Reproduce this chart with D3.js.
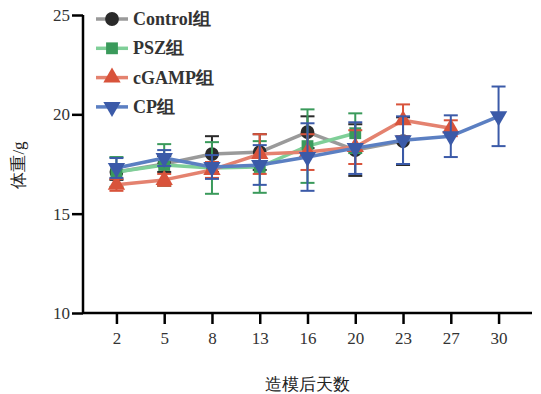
<!DOCTYPE html>
<html>
<head>
<meta charset="utf-8">
<script src="https://cdn.jsdelivr.net/npm/d3@7"></script>
<style>
  body { margin: 0; background: #fff; }
</style>
</head>
<body>
<div id="chart"></div>
<script>
// data
var days = ["2", "5", "8", "13", "16", "20", "23", "27", "30"];
var controlMean = [17.1, 17.5, 18.0, 18.1, 19.1, 18.2, 18.65];
var controlErr  = [0.4, 0.4, 0.9, 0.9, 0.8, 1.3, 1.2];
var pszMean = [17.1, 17.45, 17.3, 17.35, 18.4, 19.05];
var pszErr  = [0.75, 1.05, 1.3, 1.3, 1.85, 1.0];
var cgampMean = [16.45, 16.7, 17.2, 18.0, 18.1, 18.35, 19.7, 19.3];
var cgampErr  = [0.3, 0.3, 0.4, 1.0, 0.9, 0.85, 0.8, 0.4];
var cpMean = [17.3, 17.8, 17.35, 17.45, 17.85, 18.3, 18.7, 18.9, 19.9];
var cpErr  = [0.5, 0.4, 0.6, 1.0, 1.7, 1.3, 1.2, 1.05, 1.5];
var yTicks = [10, 15, 20, 25];

var groups = [
  {name: "Control组", mean: controlMean, err: controlErr, line: "#9a9a9a", mark: "#2a2a2a", shape: "circle"},
  {name: "PSZ组", mean: pszMean, err: pszErr, line: "#7fcf98", mark: "#3a9a5b", shape: "square"},
  {name: "cGAMP组", mean: cgampMean, err: cgampErr, line: "#e4826f", mark: "#d8533b", shape: "up"},
  {name: "CP组", mean: cpMean, err: cpErr, line: "#5b7fc2", mark: "#3b5aa8", shape: "down"}
];

var serif = "Liberation Serif";

var width = 541, height = 394;
var svg = d3.select("#chart").append("svg")
  .attr("width", width).attr("height", height);

var x = d3.scalePoint().domain(days).range([83, 532]).padding(0.7);
var y = d3.scaleLinear().domain([10, 25]).range([313, 15]);

// axes
var yAxis = svg.append("g").attr("transform", "translate(83,0)")
  .call(d3.axisLeft(y).tickValues(yTicks).tickSize(11).tickPadding(2));
var xAxis = svg.append("g").attr("transform", "translate(0,313)")
  .call(d3.axisBottom(x).tickSize(11).tickPadding(8));
[yAxis, xAxis].forEach(function(a){
  a.attr("font-family", serif).attr("font-size", 17);
  a.select(".domain").attr("stroke", "#000").attr("stroke-width", 2.5);
  a.selectAll(".tick line").attr("stroke", "#000").attr("stroke-width", 2.5);
  a.selectAll(".tick text").attr("fill", "#333");
});
xAxis.select(".domain").attr("d", "M83,0H532");
yAxis.select(".domain").attr("d", "M0,313V15");

// titles
svg.append("text")
  .attr("transform", "translate(24,165) rotate(-90)")
  .attr("text-anchor", "middle")
  .attr("font-size", 17).attr("font-family", serif).attr("fill", "#222")
  .text("体重/g");
svg.append("text")
  .attr("x", 307).attr("y", 390)
  .attr("text-anchor", "middle")
  .attr("font-size", 17).attr("font-family", serif).attr("fill", "#222")
  .text("造模后天数");

function symbolFor(shape) {
  if (shape === "circle") return d3.symbol().type(d3.symbolCircle).size(150);
  if (shape === "square") return d3.symbol().type(d3.symbolSquare).size(140);
  return d3.symbol().type(d3.symbolTriangle).size(130);
}

var line = d3.line()
  .x(function(d){ return x(d.day); })
  .y(function(d){ return y(d.v); });

groups.forEach(function(g){
  var pts = g.mean.map(function(v, i){ return {day: days[i], v: v, e: g.err[i]}; });
  var layer = svg.append("g");
  layer.append("path").datum(pts)
    .attr("d", line).attr("fill", "none")
    .attr("stroke", g.line).attr("stroke-width", 3.5)
    .attr("stroke-linejoin", "round");

  var eb = layer.selectAll(".eb").data(pts).enter().append("g");
  eb.append("line")
    .attr("x1", function(d){ return x(d.day); }).attr("x2", function(d){ return x(d.day); })
    .attr("y1", function(d){ return y(d.v - d.e); }).attr("y2", function(d){ return y(d.v + d.e); })
    .attr("stroke", g.mark).attr("stroke-width", 2);
  [-1, 1].forEach(function(s){
    eb.append("line")
      .attr("x1", function(d){ return x(d.day) - 7; }).attr("x2", function(d){ return x(d.day) + 7; })
      .attr("y1", function(d){ return y(d.v + s * d.e); }).attr("y2", function(d){ return y(d.v + s * d.e); })
      .attr("stroke", g.mark).attr("stroke-width", 2);
  });

  layer.selectAll(".m").data(pts).enter().append("path")
    .attr("d", symbolFor(g.shape))
    .attr("transform", function(d){
      return "translate(" + x(d.day) + "," + y(d.v) + ")" + (g.shape === "down" ? " rotate(180)" : "");
    })
    .attr("fill", g.mark);
});

// legend
var legend = svg.append("g");
groups.forEach(function(g, i){
  var ly = 19 + i * 29.3;
  legend.append("line").attr("x1", 96).attr("x2", 128).attr("y1", ly).attr("y2", ly)
    .attr("stroke", g.line).attr("stroke-width", 3.5);
  legend.append("path").attr("d", symbolFor(g.shape))
    .attr("transform", "translate(112," + ly + ")" + (g.shape === "down" ? " rotate(180)" : ""))
    .attr("fill", g.mark);
  legend.append("text").attr("x", 133).attr("y", ly + 6)
    .attr("font-size", 18).attr("font-weight", "bold").attr("font-family", serif)
    .attr("fill", "#333")
    .text(g.name);
});
</script>
</body>
</html>
